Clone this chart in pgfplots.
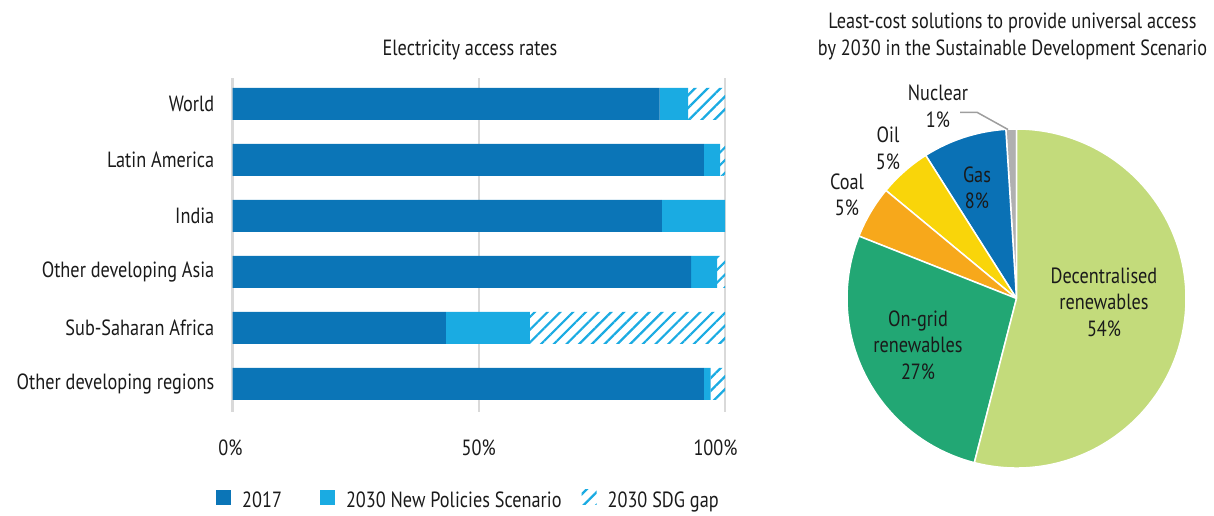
\documentclass[border=0pt]{standalone}
\usepackage{fontspec}
\setmainfont{PT Sans}[FakeStretch=0.83]
\usepackage{pgfplots}
\usepackage{pgfplotstable}
\pgfplotsset{compat=1.18}
\usetikzlibrary{patterns.meta}
\definecolor{cdark}{RGB}{11,117,183}
\definecolor{clight}{RGB}{26,171,226}
\definecolor{cgrid}{RGB}{217,217,217}
\definecolor{cdec}{RGB}{195,219,123}
\definecolor{cong}{RGB}{34,167,116}
\definecolor{ccoal}{RGB}{247,168,27}
\definecolor{coil}{RGB}{249,213,10}
\definecolor{cgas}{RGB}{10,113,181}
\definecolor{cnuc}{RGB}{176,176,176}
\definecolor{ctext}{RGB}{26,26,26}
\newcommand{\f}{\fontsize{22bp}{26.5bp}\selectfont}

\pgfplotstableread{
id y2017 nps gap
0 86.7 5.8 7.5
1 95.7 3.3 1.0
2 87.2 12.8 0.0
3 93.1 5.3 1.6
4 43.3 17.1 39.6
5 95.7 1.4 2.9
}\bardata

\pgfplotstableread{
name share col
Nuclear 1 cnuc
Gas 8 cgas
Oil 5 coil
Coal 5 ccoal
Ongrid 27 cong
Decentralised 54 cdec
}\piedata

\begin{document}
\f\color{ctext}
\begin{tikzpicture}
\useasboundingbox (0,0) rectangle (1214bp,516bp);
\begin{axis}[
  at={(232.5bp,104bp)}, anchor=south west,
  scale only axis, width=492.5bp, height=334bp,
  xbar stacked, bar width=32bp,
  xmin=0, xmax=100, ymin=-0.46, ymax=5.5, y dir=reverse,
  xtick={0,50,100}, xticklabels={\kern-4bp0\%,50\%,\kern-19bp100\%},
  ytick={0,1,2,3,4,5},
  yticklabels={World,Latin America,India,Other developing Asia,Sub-Saharan Africa,Other developing regions},
  axis line style={draw=none}, major tick length=0pt,
  xmajorgrids, grid style={cgrid, line width=2bp},
  xticklabel style={font=\f, inner sep=0pt, anchor=north, yshift=-28bp},
  yticklabel style={font=\f, inner sep=0pt, anchor=east, xshift=-18bp},
  legend columns=3,
  legend cell align=left,
  legend style={draw=none, fill=none, inner sep=0pt, at={(-0.0335,-0.265)}, anchor=west, font=\f,
    nodes={inner sep=0pt},
    /tikz/every odd column/.append style={column sep=11bp},
    /tikz/column 2/.append style={column sep=38bp},
    /tikz/column 4/.append style={column sep=20bp}},
  legend image code/.code={\fill[#1] (0bp,-3bp) rectangle (15bp,12bp);},
]
\addplot[fill=cdark, draw=none] table[x=y2017, y=id] {\bardata};
\addlegendentry{2017}
\addplot[fill=clight, draw=none] table[x=nps, y=id] {\bardata};
\addlegendentry{2030 New Policies Scenario}
\addplot[draw=none, pattern={Lines[angle=45,distance=9bp,line width=2.2bp]}, pattern color=clight] table[x=gap, y=id] {\bardata};
\addlegendentry{2030 SDG gap}
\end{axis}

\begin{axis}[at={(1016.5bp,217.5bp)}, anchor=center, scale only axis,
  width=339bp, height=339bp, hide axis, xmin=-1, xmax=1, ymin=-1, ymax=1]
\pgfplotsextra{
  \gdef\cumang{90}
  \pgfplotstablegetrowsof{\piedata}
  \pgfmathtruncatemacro{\lastrow}{\pgfplotsretval-1}
  \foreach \i in {0,...,\lastrow}{
    \pgfplotstablegetelem{\i}{share}\of{\piedata}\let\sval\pgfplotsretval
    \pgfplotstablegetelem{\i}{col}\of{\piedata}\let\scol\pgfplotsretval
    \pgfmathsetmacro{\endang}{\cumang+3.6*\sval}
    \fill[fill=\scol, draw=white, line width=1.5bp] (axis cs:0,0) -- (axis cs:{cos(\cumang)},{sin(\cumang)}) arc[start angle=\cumang, end angle=\endang, radius=169.5bp] -- cycle;
    \xdef\cumang{\endang}
  }
}
\end{axis}

\node[font=\f, inner sep=0pt] at (470bp,466bp) {Electricity access rates};
\node[font=\f, inner sep=0pt, align=center] at (1012.5bp,479.5bp) {Least-cost solutions to provide universal access\\by 2030 in the Sustainable Development Scenario};
\node[font=\f, inner sep=0pt, align=center] at (1104bp,214bp) {Decentralised\\renewables\\54\%};
\node[font=\f, inner sep=0pt, align=center] at (918bp,171bp) {On-grid\\renewables\\27\%};
\node[font=\f, inner sep=0pt, align=center] at (977bp,328bp) {Gas\\8\%};
\node[font=\f, inner sep=0pt, align=center] at (847bp,321bp) {Coal\\5\%};
\node[font=\f, inner sep=0pt, align=center] at (888bp,367.5bp) {Oil\\5\%};
\node[font=\f, inner sep=0pt, align=center] at (938bp,409.5bp) {Nuclear\\1\%};
\draw[cnuc!90!black, line width=1.5bp] (960bp,403.7bp) -- (977bp,403.7bp) -- (1008bp,386.5bp);
\end{tikzpicture}
\end{document}
